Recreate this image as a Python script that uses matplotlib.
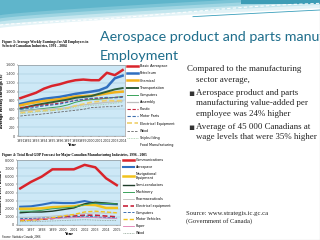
import matplotlib.pyplot as plt
import numpy as np

W, H = 320, 240

# ---- top chart: average weekly earnings, 1991-2004 ----
years_top = list(range(1991, 2005))
earn_ticks = list(range(0, 1601, 200))
earn_aerospace = [853, 914, 975, 1067, 1128, 1166, 1219, 1257, 1272, 1257, 1257, 1425, 1371, 1486]
earn_petroleum = [724, 762, 800, 838, 860, 880, 914, 950, 975, 1000, 1030, 1100, 1300, 1360]
earn_chemical = [690, 730, 760, 790, 810, 830, 860, 890, 900, 910, 930, 960, 985, 1000]
earn_transport = [620, 660, 700, 730, 760, 790, 820, 860, 880, 900, 950, 1000, 1050, 1080]
earn_computers = [560, 580, 600, 620, 640, 660, 700, 760, 800, 820, 830, 850, 870, 890]
earn_assembly = [560, 570, 590, 600, 610, 620, 640, 680, 700, 720, 740, 760, 770, 790]
earn_plastic = [640, 660, 680, 700, 720, 740, 770, 800, 820, 840, 850, 860, 870, 880]
earn_motorparts = [600, 620, 650, 680, 700, 720, 760, 800, 830, 850, 860, 870, 860, 870]
earn_electrical = [520, 540, 560, 570, 580, 600, 630, 680, 720, 760, 780, 800, 790, 800]
earn_wood = [450, 470, 480, 500, 520, 540, 560, 580, 600, 640, 650, 660, 660, 680]
earn_shipbuilding = [500, 520, 540, 560, 570, 590, 620, 650, 660, 690, 700, 720, 740, 760]
earn_labels = ["Basic Aerospace", "Petroleum", "Chemical", "Transportation", "Computers",
               "Assembly", "Plastic", "Motor Parts", "Electrical Equipment", "Wood",
               "Shipbuilding", "Food Manufacturing"]

# ---- bottom chart: real GDP, 1996-2005 ----
years_bot = list(range(1996, 2006))
gdp_ticks = list(range(0, 8001, 1000))
gdp_comm = [4500, 5300, 5950, 6850, 6850, 6850, 7400, 7100, 5750, 4900]
gdp_aero = [2250, 2300, 2500, 2750, 2700, 2700, 2950, 2650, 2600, 2550]
gdp_nav = [2000, 2000, 2050, 2200, 2250, 2300, 2500, 2450, 2100, 2100]
gdp_semi = [1500, 1600, 1600, 1700, 1900, 2100, 2600, 2800, 2700, 2600]
gdp_machinery = [1700, 1700, 1800, 2000, 2100, 2200, 2500, 2700, 2650, 2600]
gdp_pharma = [900, 950, 1000, 1100, 1200, 1300, 1400, 1500, 1450, 1500]
gdp_electrical = [600, 650, 700, 800, 1000, 1100, 1200, 1200, 1100, 1000]
gdp_computers = [800, 800, 850, 900, 950, 1000, 1100, 1000, 900, 900]
gdp_motor = [500, 600, 700, 900, 1100, 1300, 1600, 1700, 1600, 1500]
gdp_paper = [650, 700, 750, 800, 850, 900, 950, 900, 850, 800]
gdp_wood = [400, 420, 450, 500, 550, 600, 650, 600, 550, 550]
gdp_labels = ["Communications", "Aerospace", "Navigational\nEquipment", "Semi-conductors",
              "Machinery", "Pharmaceuticals", "Electrical equipment", "Computers",
              "Motor Vehicles", "Paper", "Wood"]

fig = plt.figure(figsize=(3.2, 2.4), dpi=100)


def px_axes(x0, y0, x1, y1):
    """Axes placed by pixel box (top-left origin)."""
    return fig.add_axes([x0 / W, 1 - y1 / H, (x1 - x0) / W, (y1 - y0) / H])


# background / header swoosh
bg = px_axes(0, 0, W, H)
bg.set_xlim(0, W)
bg.set_ylim(H, 0)
bg.axis('off')
xs = np.linspace(0, W, 200)
edge = 28 - 20 * (xs / W) ** 0.8
for k, c in enumerate(['#e3f3f7', '#c4e6ee', '#9fd5e2', '#7cc4d6', '#5fb5cb']):
    bg.fill_between(xs, 0, edge - k * 3.2, color=c, lw=0)
bg.plot(xs, edge - 3 + 2 * np.sin(xs / 60), color='white', lw=0.8, ls=(0, (3, 2)), alpha=0.9)
bg.plot(xs[120:], edge[120:] + 2, color='#3a9fbb', lw=0.6)
bg.fill_between(xs[150:], 0, 4, color='#3d9db6', lw=0)
bg.plot([W - 0.5, W - 0.5], [0, H], color='#999999', lw=0.8)
bg.plot([0, W], [H - 0.5, H - 0.5], color='#999999', lw=0.8)

# title runs off the right edge of the slide, as in the original
title_font = ['Lato', 'DejaVu Sans']
bg.text(100, 41, "Aerospace product and parts manufacturing", color='#1f6e8c',
        fontsize=10.3, family=title_font, va='baseline', clip_on=True)
bg.text(100, 60, "Employment", color='#1f6e8c', fontsize=10.3, family=title_font,
        va='baseline')

# captions
cap_font = ['Liberation Serif', 'DejaVu Serif']
bg.text(2, 44, "Figure 3: Average Weekly Earnings for All Employees in\nSelected Canadian Industries, 1991 - 2004",
        fontsize=2.6, family=cap_font, weight='bold', va='center', linespacing=1.1)
bg.text(2, 155, "Figure 4: Total Real GDP Forecast for Major Canadian Manufacturing Industries, 1996 - 2005",
        fontsize=2.6, family=cap_font, weight='bold', va='center')
bg.text(2, 237, "Source: Statistics Canada, 2006", fontsize=2.2, family=cap_font, va='center')

# right-hand text
body_font = ['Liberation Serif', 'DejaVu Serif']
txt = '#222222'
bg.text(187, 69, "Compared to the manufacturing", fontsize=6.4, family=body_font, color=txt, va='center')
bg.text(196, 80, "sector average,", fontsize=6.4, family=body_font, color=txt, va='center')
for y0, lines in [(93, ["Aerospace product and parts", "manufacturing value-added per",
                        "employee was 24% higher"]),
                  (127, ["Average of 45 000 Canadians at", "wage levels that were 35% higher"])]:
    bg.text(188, y0, "\u25aa", fontsize=6.4, family=['DejaVu Sans'], color='#333333', va='center')
    for i, ln in enumerate(lines):
        bg.text(196, y0 + 10.3 * i, ln, fontsize=6.4, family=body_font, color=txt, va='center')
bg.text(186, 213, "Source: www.strategis.ic.gc.ca", fontsize=4.8, family=body_font, color=txt, va='center')
bg.text(186, 221, "(Government of Canada)", fontsize=4.8, family=body_font, color=txt, va='center')

plot_bg = '#cde8f6'
grid_c = '#9fc3d8'
tick_fs = 2.4


def style_axes(ax, years, ticks, ylabel):
    ax.set_facecolor(plot_bg)
    ax.set_xticks(years)
    ax.set_xticklabels([str(y) for y in years], fontsize=tick_fs)
    ax.set_yticks(ticks)
    ax.set_yticklabels([f"{t:,}" for t in ticks], fontsize=tick_fs)
    ax.set_ylim(ticks[0], ticks[-1])
    ax.set_xlim(years[0] - 0.3, years[-1] + 0.3)
    ax.grid(axis='y', color=grid_c, lw=0.35)
    ax.set_axisbelow(True)
    ax.tick_params(length=1, width=0.3, pad=1, colors='#333333')
    for s in ax.spines.values():
        s.set_color('#888888')
        s.set_linewidth(0.4)
    ax.set_xlabel("Year", fontsize=2.6, labelpad=0.5, weight='bold')
    ax.set_ylabel(ylabel, fontsize=2.4, labelpad=1, weight='bold')


# top chart
ax1 = px_axes(18, 65, 125, 136)
top_series = [
    (earn_aerospace, '#d9242b', '-', 1.8),
    (earn_petroleum, '#2f6fc0', '-', 1.8),
    (earn_chemical, '#f2b21c', '-', 1.8),
    (earn_transport, '#2e5e3a', '-', 1.4),
    (earn_computers, '#3aa35a', '-', 0.7),
    (earn_assembly, '#bdbdbd', '-', 0.9),
    (earn_plastic, '#c8233a', (0, (3, 1.5)), 0.8),
    (earn_motorparts, '#3d6fb0', (0, (3, 1.5)), 0.8),
    (earn_electrical, '#efcf6a', (0, (3, 1.5)), 1.2),
    (earn_wood, '#666666', (0, (3, 1.5)), 0.6),
    (earn_shipbuilding, '#9bc99f', (0, (1, 1)), 0.6),
]
for (vals, c, ls, lw), lab in zip(top_series, earn_labels):
    ax1.plot(years_top, vals, color=c, ls=ls, lw=lw, label=lab)
ax1.plot([], [], color='white', lw=0, label=earn_labels[-1])
style_axes(ax1, years_top, earn_ticks, "Average Weekly Earnings ($)")
ax1.legend(loc='upper left', bbox_to_anchor=(1.01, 1.03), fontsize=2.4, frameon=False,
           handlelength=3.2, labelspacing=0.95, borderaxespad=0, handletextpad=0.6)

# bottom chart
ax2 = px_axes(17, 160, 120, 225)
bot_series = [
    (gdp_comm, '#d9242b', '-', 1.8),
    (gdp_aero, '#2f6fc0', '-', 1.5),
    (gdp_nav, '#f2c21c', '-', 1.8),
    (gdp_semi, '#1f3d2a', '-', 1.0),
    (gdp_machinery, '#3aa35a', '-', 0.7),
    (gdp_pharma, '#bdbdbd', '-', 0.6),
    (gdp_electrical, '#c8233a', (0, (3, 1.5)), 1.2),
    (gdp_computers, '#3d6fb0', (0, (3, 1.5)), 0.7),
    (gdp_motor, '#f2c21c', (0, (3, 1.5)), 1.0),
    (gdp_paper, '#e07ab0', '-', 0.6),
    (gdp_wood, '#8aa090', (0, (1, 1)), 0.6),
]
for (vals, c, ls, lw), lab in zip(bot_series, gdp_labels):
    ax2.plot(years_bot, vals, color=c, ls=ls, lw=lw, label=lab)
style_axes(ax2, years_bot, gdp_ticks, "Millions of 1997 Dollars")
ax2.legend(loc='upper left', bbox_to_anchor=(1.02, 1.05), fontsize=2.4, frameon=False,
           handlelength=3.2, labelspacing=0.85, borderaxespad=0, handletextpad=0.6)

fig.savefig("out.png", dpi=100)
